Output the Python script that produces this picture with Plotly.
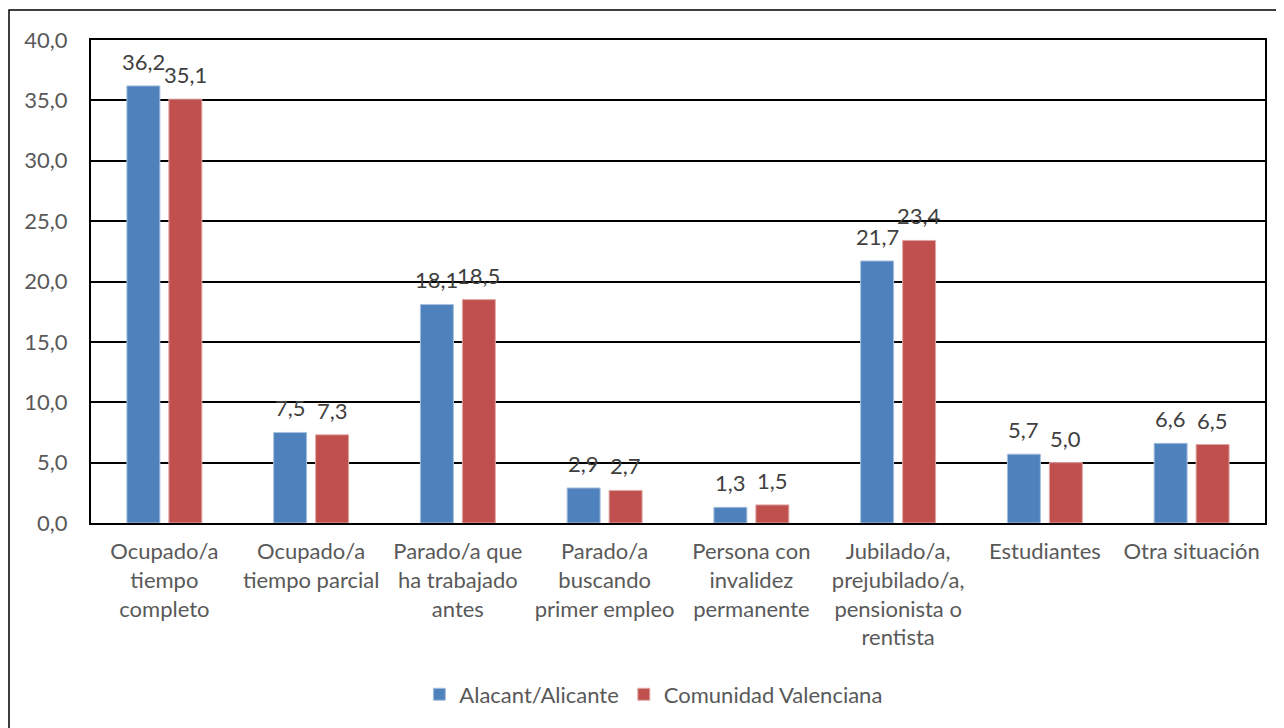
import plotly.graph_objects as go

categories = [
    "Ocupado/a<br>tiempo<br>completo",
    "Ocupado/a<br>tiempo parcial",
    "Parado/a que<br>ha trabajado<br>antes",
    "Parado/a<br>buscando<br>primer empleo",
    "Persona con<br>invalidez<br>permanente",
    "Jubilado/a,<br>prejubilado/a,<br>pensionista o<br>rentista",
    "Estudiantes",
    "Otra situación",
]
alicante = [36.2, 7.5, 18.1, 2.9, 1.3, 21.7, 5.7, 6.6]
valenciana = [35.1, 7.3, 18.5, 2.7, 1.5, 23.4, 5.0, 6.5]
series_names = ["Alacant/Alicante", "Comunidad Valenciana"]
y_ticks = [0, 5, 10, 15, 20, 25, 30, 35, 40]

FONT = "Lato"
TXT = "#595959"
FS = 22

fig = go.Figure()
series = [
    (series_names[0], alicante, "#4F81BD", "#A7C0DE", -21),
    (series_names[1], valenciana, "#C0504D", "#E0A8A6", 21),
]
for name, vals, col, edge, dx in series:
    fig.add_trace(go.Bar(
        x=categories, y=vals, name=name,
        marker=dict(color=col, line=dict(color=edge, width=1)),
    ))
    for c, v in zip(categories, vals):
        fig.add_annotation(
            x=c, y=v, text=f"{v:.1f}".replace(".", ","), showarrow=False,
            xanchor="center", yanchor="bottom", xshift=dx, yshift=9,
            font=dict(family=FONT, size=FS, color="#404040"),
        )

fig.update_layout(
    width=1284, height=728,
    margin=dict(l=83, r=27, t=32, b=213),
    paper_bgcolor="white", plot_bgcolor="white",
    separators=",.",
    barmode="group", bargap=0.428, bargroupgap=0.214,
    font=dict(family=FONT, size=FS, color=TXT),
    legend=dict(orientation="h", x=0.479, xanchor="center", y=-0.355, yanchor="middle",
                font=dict(family=FONT, size=FS, color=TXT), itemwidth=30,
                traceorder="normal"),
    showlegend=True,
)
fig.update_xaxes(
    showline=True, linecolor="black", linewidth=2, mirror=True,
    ticks="", tickfont=dict(family=FONT, size=FS, color=TXT),
    ticklabelstandoff=8,
)
fig.update_yaxes(
    range=[0, 40], tickvals=y_ticks, tickformat=".1f",
    showgrid=True, gridcolor="black", gridwidth=1.5,
    showline=True, linecolor="black", linewidth=2, mirror=True,
    ticks="", tickfont=dict(family=FONT, size=FS, color=TXT),
    ticklabelstandoff=17, zeroline=False,
)
# outer chart border
fig.add_shape(type="rect", xref="paper", yref="paper",
              x0=(9 - 91) / 1174, x1=1.2, y0=-0.6, y1=(523 - 10) / 483,
              line=dict(color="black", width=1.5), fillcolor="rgba(0,0,0,0)", layer="below")

fig.write_html("out.html")
